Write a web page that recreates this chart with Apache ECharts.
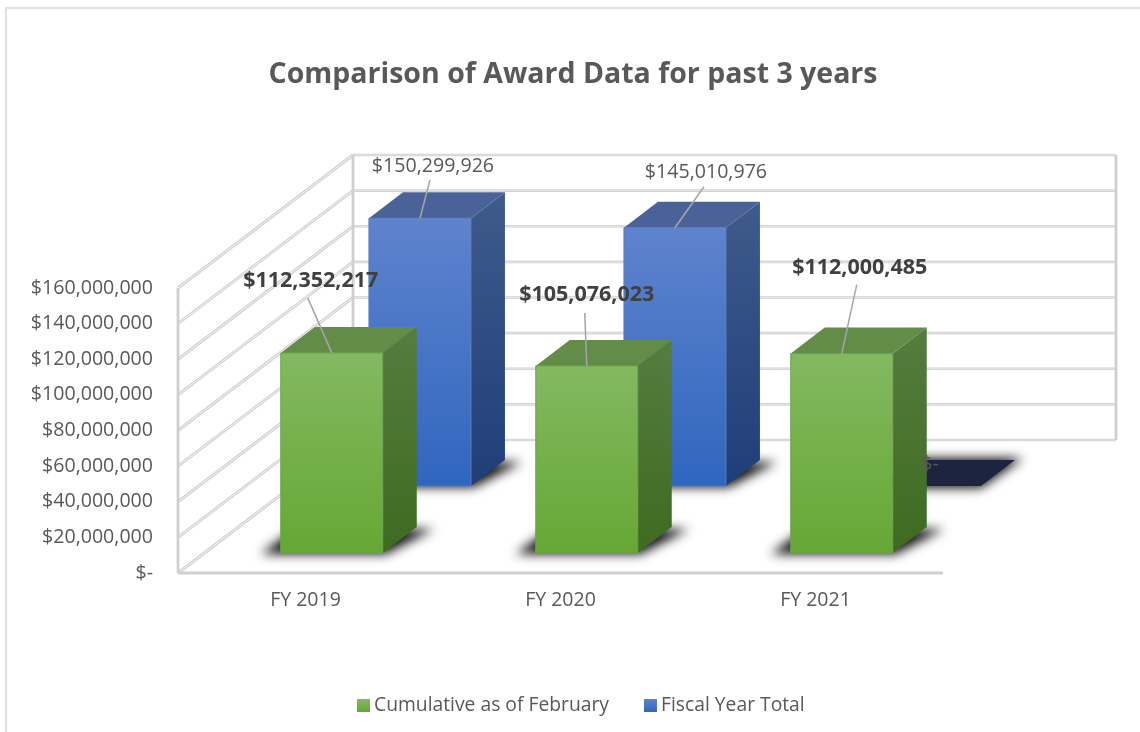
<!DOCTYPE html>
<html>
<head>
<meta charset="utf-8">
<title>Comparison of Award Data</title>
<style>
  html, body { margin: 0; padding: 0; background: #fff; }
  #main { width: 1140px; height: 732px; }
</style>
<script src="https://cdn.jsdelivr.net/npm/echarts@6/dist/echarts.min.js"></script>
</head>
<body>
<div id="main"></div>
<script>
var categories = ['FY 2019', 'FY 2020', 'FY 2021'];
var cumulativeValues = [112352217, 105076023, 112000485];
var fiscalTotalValues = [150299926, 145010976, 0];
var yTicks = [0, 20000000, 40000000, 60000000, 80000000, 100000000, 120000000, 140000000, 160000000];

var FONT = '"Open Sans", "Noto Sans", sans-serif';

// the fake 3D box: how far the back wall sits from the front edge, in pixels
var wallX = 175, wallY = -133;
var barWidth = 0.4;      // share of one category
var barDepthX = 34, barDepthY = -26;

// label position and end of its leader line, relative to the middle of the bar's top edge
var greenLabelOffset = [[-21, -72, -24, -55], [0, -71, -2, -53], [18, -86, 15, -69]];
var blueLabelOffset = [[13, -52, 10, -38], [31, -55, 29, -41], [0, -22, null, null]];

function money(v) {
    if (v === 0) return '$-';
    return '$' + v.toLocaleString('en-US');
}

function vGrad(a, b) {
    return new echarts.graphic.LinearGradient(0, 0, 0, 1, [
        { offset: 0, color: a }, { offset: 1, color: b }
    ]);
}

function poly(points, fill, extra) {
    var style = { fill: fill };
    for (var k in extra) style[k] = extra[k];
    return { type: 'polygon', shape: { points: points }, style: style };
}

// only the blurred shadow should show, so the shape itself sits off the canvas
function softShadow(points) {
    var far = 3000;
    var moved = points.map(function (p) { return [p[0] - far, p[1]]; });
    return poly(moved, '#000', { shadowBlur: 11, shadowOffsetX: far, shadowColor: 'rgba(15,15,15,1)' });
}

function wallLines(params, api) {
    var v = api.value(1);
    var band = api.size([1, 0])[0];
    var p = api.coord([0, v]);
    var x0 = p[0] - band / 2, y0 = p[1];
    var backX = x0 + wallX, backY = y0 + wallY;
    var endX = backX + band * categories.length - 2;
    var children = [
        { type: 'line', shape: { x1: x0, y1: y0, x2: backX, y2: backY }, style: { stroke: '#cfcfcf', lineWidth: 3 } },
        { type: 'line', shape: { x1: x0, y1: y0, x2: backX, y2: backY }, style: { stroke: '#f8f8f8', lineWidth: 1 } },
        { type: 'line', shape: { x1: backX, y1: backY, x2: endX, y2: backY }, style: { stroke: '#d0d0d0', lineWidth: 2.6 } },
        { type: 'line', shape: { x1: backX, y1: backY, x2: endX, y2: backY }, style: { stroke: '#ececec', lineWidth: 0.8 } }
    ];
    // edges only once, with the top tick
    if (params.dataIndex === yTicks.length - 1) {
        var bottom = api.coord([0, 0])[1];
        var frontRight = x0 + band * categories.length;
        var edge = { stroke: '#cfcfcf', lineWidth: 2.8 };
        children.push({ type: 'line', shape: { x1: x0, y1: y0, x2: x0, y2: bottom }, style: edge });
        children.push({ type: 'line', shape: { x1: backX, y1: backY, x2: backX, y2: bottom + wallY }, style: edge });
        children.push({ type: 'line', shape: { x1: endX, y1: backY, x2: endX, y2: bottom + wallY }, style: edge });
        children.push({ type: 'line', shape: { x1: x0, y1: bottom, x2: frontRight, y2: bottom }, style: edge });
    }
    return { type: 'group', children: children };
}

function barRenderer(depth, colors) {
    return function (params, api) {
        var band = api.size([1, 0])[0];
        var w = band * barWidth;
        var top = api.coord([api.value(0), api.value(1)]);
        var base = api.coord([api.value(0), 0]);
        var cx = top[0] + wallX * depth;
        var yTop = top[1] + wallY * depth;
        var yBase = base[1] + wallY * depth;
        var l = cx - w / 2, r = cx + w / 2;
        var dx = barDepthX, dy = barDepthY;
        var children = [];
        if (api.value(1) === 0) {
            children.push(softShadow([[l, yBase + 2], [r, yBase + 2], [r + dx + 8, yBase + dy - 2], [l + dx, yBase + dy - 2]]));
            children.push(poly([[l, yBase], [r, yBase], [r + dx, yBase + dy], [l + dx, yBase + dy]], colors.flat));
        } else {
            // floor shadow, pushed a bit to the left and sticking out on the right
            children.push(softShadow([[l - 20, yBase + 1], [r + 3, yBase + 1], [r + dx + 17, yBase + dy + 2], [l + dx - 20, yBase + dy + 2]]));
            children.push(poly([[r, yTop], [r + dx, yTop + dy], [r + dx, yBase + dy], [r, yBase]], vGrad(colors.sideTop, colors.sideBottom)));
            children.push(poly([[l, yTop], [r, yTop], [r + dx, yTop + dy], [l + dx, yTop + dy]], colors.top));
            children.push({
                type: 'rect',
                shape: { x: l, y: yTop, width: w, height: yBase - yTop },
                style: { fill: vGrad(colors.frontTop, colors.frontBottom), stroke: colors.edge, lineWidth: 1 }
            });
        }
        return { type: 'group', children: children };
    };
}

function labelRenderer(depth, bold, offsets) {
    return function (params, api) {
        var i = params.dataIndex;
        var top = api.coord([api.value(0), api.value(1)]);
        var x = top[0] + wallX * depth, y = top[1] + wallY * depth;
        var o = offsets[i];
        var children = [];
        if (o[2] !== null) {
            children.push({ type: 'line', shape: { x1: x, y1: y, x2: x + o[2], y2: y + o[3] }, style: { stroke: '#a6a6a6', lineWidth: 1.5 } });
        }
        children.push({
            type: 'text',
            style: {
                x: x + o[0], y: y + o[1], text: money(api.value(1)),
                align: 'center', verticalAlign: 'middle',
                font: (bold ? 'bold 21.5px ' : '19.6px ') + FONT,
                fill: bold ? '#404040' : '#595959'
            }
        });
        return { type: 'group', children: children };
    };
}

function toPairs(values) {
    return values.map(function (v, i) { return [i, v]; });
}

var greenColors = {
    frontTop: '#83b961', frontBottom: '#66a734', edge: '#6ea34a',
    top: '#628c48', sideTop: '#557d3f', sideBottom: '#3e6a20', flat: '#3e6a20'
};
var blueColors = {
    frontTop: '#5f83cd', frontBottom: '#2f66be', edge: '#5a7cc0',
    top: '#4a6298', sideTop: '#3f5b8c', sideBottom: '#1f3e79', flat: '#1c2440'
};

var chart = echarts.init(document.getElementById('main'));

var option = {
    animation: false,
    backgroundColor: '#fff',
    textStyle: { fontFamily: FONT },
    graphic: [{
        type: 'rect', silent: true,
        shape: { x: 6, y: 8, width: 1300, height: 900 },
        style: { fill: 'none', stroke: '#e0e0e0', lineWidth: 2 }
    }],
    title: {
        text: 'Comparison of Award Data for past 3 years',
        left: 568, top: 55, textAlign: 'center',
        textStyle: { fontFamily: FONT, fontSize: 28.5, fontWeight: 'bold', color: '#595959' }
    },
    legend: {
        data: ['Cumulative as of February', 'Fiscal Year Total'],
        left: 352, top: 691,
        icon: 'rect', itemWidth: 13, itemHeight: 13, itemGap: 35,
        textStyle: { fontFamily: FONT, fontSize: 19.3, color: '#595959', padding: [0, 0, 0, -1] }
    },
    grid: { left: 178, top: 288, width: 765, height: 285 },
    xAxis: {
        type: 'category',
        data: categories,
        axisLine: { show: false },
        axisTick: { show: false },
        axisLabel: { fontFamily: FONT, fontSize: 19.5, color: '#595959', margin: 17 }
    },
    yAxis: {
        type: 'value', min: 0, max: 160000000, interval: 20000000,
        axisLine: { show: false },
        axisTick: { show: false },
        splitLine: { show: false },
        axisLabel: { fontFamily: FONT, fontSize: 19.6, color: '#595959', margin: 25, padding: [3, 0, 0, 0], formatter: money }
    },
    series: [
        { name: 'walls', type: 'custom', z: 1, silent: true, renderItem: wallLines, data: toPairs(yTicks), encode: { x: 0, y: 1 } },
        {
            name: 'Fiscal Year Total', type: 'custom', z: 2, silent: true,
            itemStyle: { color: vGrad('#5f83cd', '#2f66be') },
            renderItem: barRenderer(0.654, blueColors), data: toPairs(fiscalTotalValues), encode: { x: 0, y: 1 }
        },
        {
            name: 'Cumulative as of February', type: 'custom', z: 3, silent: true,
            itemStyle: { color: vGrad('#83b961', '#66a734') },
            renderItem: barRenderer(0.15, greenColors), data: toPairs(cumulativeValues), encode: { x: 0, y: 1 }
        },
        { name: 'blue labels', type: 'custom', z: 5, silent: true, renderItem: labelRenderer(0.654, false, blueLabelOffset), data: toPairs(fiscalTotalValues), encode: { x: 0, y: 1 } },
        { name: 'green labels', type: 'custom', z: 6, silent: true, renderItem: labelRenderer(0.15, true, greenLabelOffset), data: toPairs(cumulativeValues), encode: { x: 0, y: 1 } }
    ]
};

chart.setOption(option);
</script>
</body>
</html>
